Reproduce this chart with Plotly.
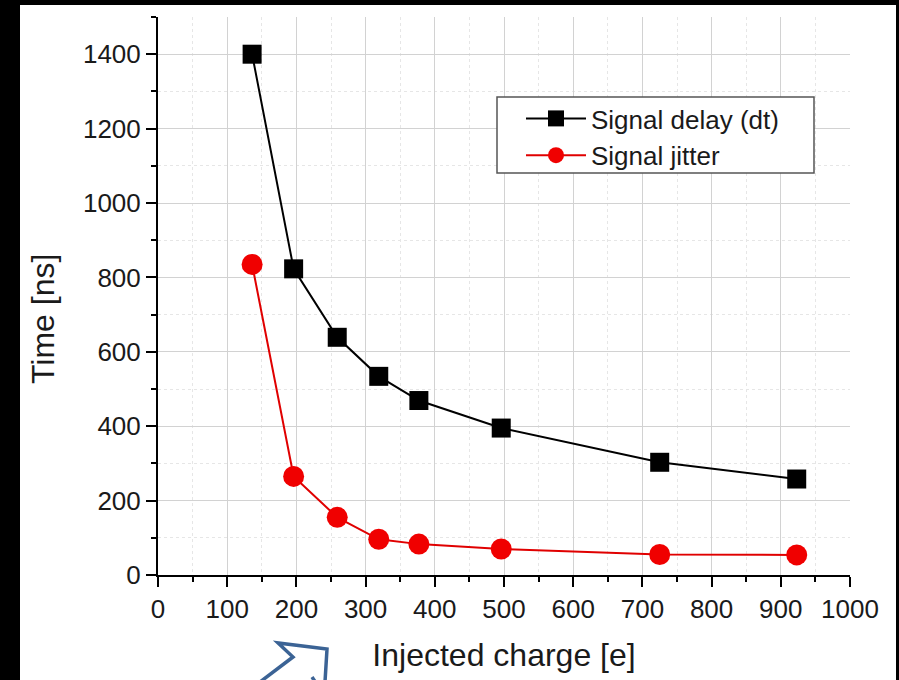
import plotly.graph_objects as go

# ---- data ----
charge = [136, 196, 259, 319, 377, 496, 725, 923]
signal_delay = [1400, 823, 639, 534, 469, 395, 303, 258]
signal_jitter = [835, 265, 155, 96, 83, 70, 55, 54]

x_ticks = [0, 100, 200, 300, 400, 500, 600, 700, 800, 900, 1000]
y_ticks = [0, 200, 400, 600, 800, 1000, 1200, 1400]

W, H = 899, 680
L, R, T, B = 158, 49, 17, 105
PW, PH = W - L - R, H - T - B


def px(xp, yp):
    return (xp - L) / PW, (H - B - yp) / PH


font = "Liberation Sans, Arial, sans-serif"

fig = go.Figure()
fig.add_trace(go.Scatter(
    x=charge, y=signal_delay, mode="lines+markers", name="Signal delay (dt)",
    line=dict(color="black", width=2),
    marker=dict(symbol="square", size=19, color="black"),
))
fig.add_trace(go.Scatter(
    x=charge, y=signal_jitter, mode="lines+markers", name="Signal jitter",
    line=dict(color="#e00000", width=2),
    marker=dict(symbol="circle", size=21, color="#f00000"),
))

# black frame + white page
x0, y0 = px(20, 5)
x1, y1 = px(896, 682)
shapes = [dict(type="rect", xref="paper", yref="paper", x0=x0, y0=y1, x1=x1, y1=y0,
               fillcolor="white", line=dict(width=0), layer="below")]

# legend frame
lx0, ly0 = px(497, 97)
lx1, ly1 = px(814, 173)
shapes.append(dict(type="rect", xref="paper", yref="paper", x0=lx0, y0=ly1, x1=lx1, y1=ly0,
                   fillcolor="white", line=dict(color="#555555", width=1.5), layer="above"))

# blue outlined arrow at the bottom
pts = [(260, 682), (293, 657), (278, 643), (327, 649), (325, 682)]
path = "M " + " L ".join("%f,%f" % px(a, b) for a, b in pts)
shapes.append(dict(type="path", xref="paper", yref="paper", path=path,
                   line=dict(color="#3b6395", width=3.5)))
p1 = px(312, 677)
p2 = px(316, 683)
shapes.append(dict(type="line", xref="paper", yref="paper", x0=p1[0], y0=p1[1],
                   x1=p2[0], y1=p2[1], line=dict(color="#3b6395", width=3.5)))

axis_common = dict(
    showline=True, linecolor="black", linewidth=2,
    ticks="outside", ticklen=10, tickwidth=1.5, tickcolor="black",
    showgrid=True, gridcolor="#d2d2d2", gridwidth=1,
    zeroline=False,
    tickfont=dict(family=font, size=26, color="#1a1a1a"),
)

ytx, yty = px(43, 319)
legx, legy = px(521, 95)

fig.update_layout(
    width=W, height=H,
    margin=dict(l=L, r=R, t=T, b=B),
    paper_bgcolor="black", plot_bgcolor="white",
    shapes=shapes,
    showlegend=True,
    legend=dict(
        x=legx, y=legy, xanchor="left", yanchor="top",
        bgcolor="rgba(0,0,0,0)", borderwidth=0,
        font=dict(family=font, size=26, color="#1a1a1a"),
        tracegroupgap=0, itemwidth=60,
    ),
    annotations=[dict(
        text="Time [ns]", xref="paper", yref="paper", x=ytx, y=yty,
        xanchor="center", yanchor="middle", textangle=-90, showarrow=False,
        font=dict(family=font, size=32, color="#1a1a1a"),
    )],
    xaxis=dict(
        range=[0, 1000], tickvals=x_ticks,
        minor=dict(dtick=50, tick0=0, ticklen=5, tickwidth=1.5, tickcolor="black",
                   ticks="outside", showgrid=True, gridcolor="#e6e6e6", griddash="dot"),
        title=dict(text="Injected charge [e]", font=dict(family=font, size=32, color="#1a1a1a"),
                   standoff=20),
        **axis_common,
    ),
    yaxis=dict(
        range=[0, 1500], tickvals=y_ticks,
        minor=dict(dtick=100, tick0=0, ticklen=5, tickwidth=1.5, tickcolor="black",
                   ticks="outside", showgrid=True, gridcolor="#e6e6e6", griddash="dot"),
        **axis_common,
    ),
)

fig.write_html("out.html", config={"displayModeBar": False})

# remove the browser's default page margin so the figure sits at the window origin
with open("out.html", "r", encoding="utf-8") as f:
    html = f.read()
html = html.replace("<head>", "<head><style>html,body{margin:0;padding:0;overflow:hidden;background:black;}</style>", 1)
with open("out.html", "w", encoding="utf-8") as f:
    f.write(html)
